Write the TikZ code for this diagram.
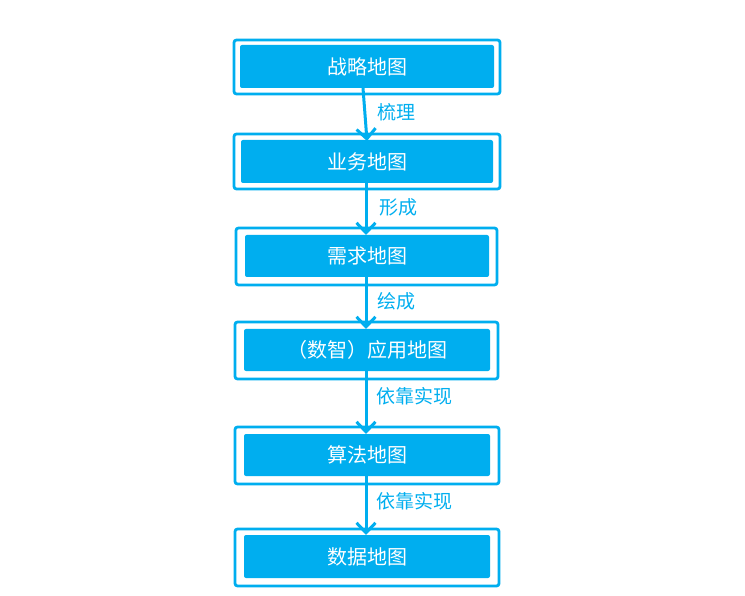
\documentclass[tikz,border=0pt]{standalone}
\usepackage{fontspec}
\newfontfamily\cjk{Noto Sans CJK SC}
\usetikzlibrary{arrows.meta}
\definecolor{mblue}{HTML}{00AEEF}
\tikzset{
  outerbox/.style={draw=mblue, line width=2.8pt, fill=white, rounded corners=2.5pt},
  innerbox/.style={fill=mblue, rounded corners=2pt},
  boxtext/.style={text=white, font=\cjk\fontsize{20}{22}\selectfont},
  lbl/.style={text=mblue, font=\cjk\fontsize{19}{21}\selectfont, anchor=west},
  flow/.style={draw=mblue, line width=3pt, -{Straight Barb[length=10pt,width=19pt,line width=3pt]}}
}
\begin{document}
\begin{tikzpicture}[x=1pt,y=-1pt]
\useasboundingbox (0,0) rectangle (745,596);
\newcommand\mybox[9]{%
  \draw[outerbox] (#2,#3) rectangle (#4,#5);
  \fill[innerbox] (#6,#7) rectangle (#8,#9);
}
\mybox{a}{234}{40}{500}{94}{240}{45}{494}{88}
\node[boxtext] (ta) at (367,66.5) {战略地图};
\mybox{b}{234}{134}{500}{189}{241}{140}{493}{183}
\node[boxtext] (tb) at (367,161.5) {业务地图};
\mybox{c}{236}{228}{497}{285}{245}{235}{489}{277}
\node[boxtext] (tc) at (367,256) {需求地图};
\mybox{d}{235}{322}{498}{379}{244}{329}{490}{371}
\node[boxtext] (td) at (367,350) {（数智）应用地图};
\mybox{e}{235}{427}{499}{484}{244}{434}{490}{476}
\node[boxtext] (te) at (367,455) {算法地图};
\mybox{f}{235}{529}{499}{586}{244}{535}{490}{578}
\node[boxtext] (tf) at (367,556.5) {数据地图};
% arrows
\coordinate (a1s) at (363,88);
\coordinate (a1e) at (367,141);
\draw[flow] (a1s) -- (a1e);
\coordinate (a2s) at (366,183);
\coordinate (a2e) at (366,235);
\draw[flow] (a2s) -- (a2e);
\coordinate (a3s) at (366,277);
\coordinate (a3e) at (366,329);
\draw[flow] (a3s) -- (a3e);
\coordinate (a4s) at (366,371);
\coordinate (a4e) at (366,434);
\draw[flow] (a4s) -- (a4e);
\coordinate (a5s) at (366,476);
\coordinate (a5e) at (366,535);
\draw[flow] (a5s) -- (a5e);
% labels
\node[lbl] (l1) at (374,112) {梳理};
\node[lbl] (l2) at (376,207) {形成};
\node[lbl] (l3) at (374,301) {绘成};
\node[lbl] (l4) at (373,396) {依靠实现};
\node[lbl] (l5) at (373,501) {依靠实现};
\end{tikzpicture}
\end{document}
